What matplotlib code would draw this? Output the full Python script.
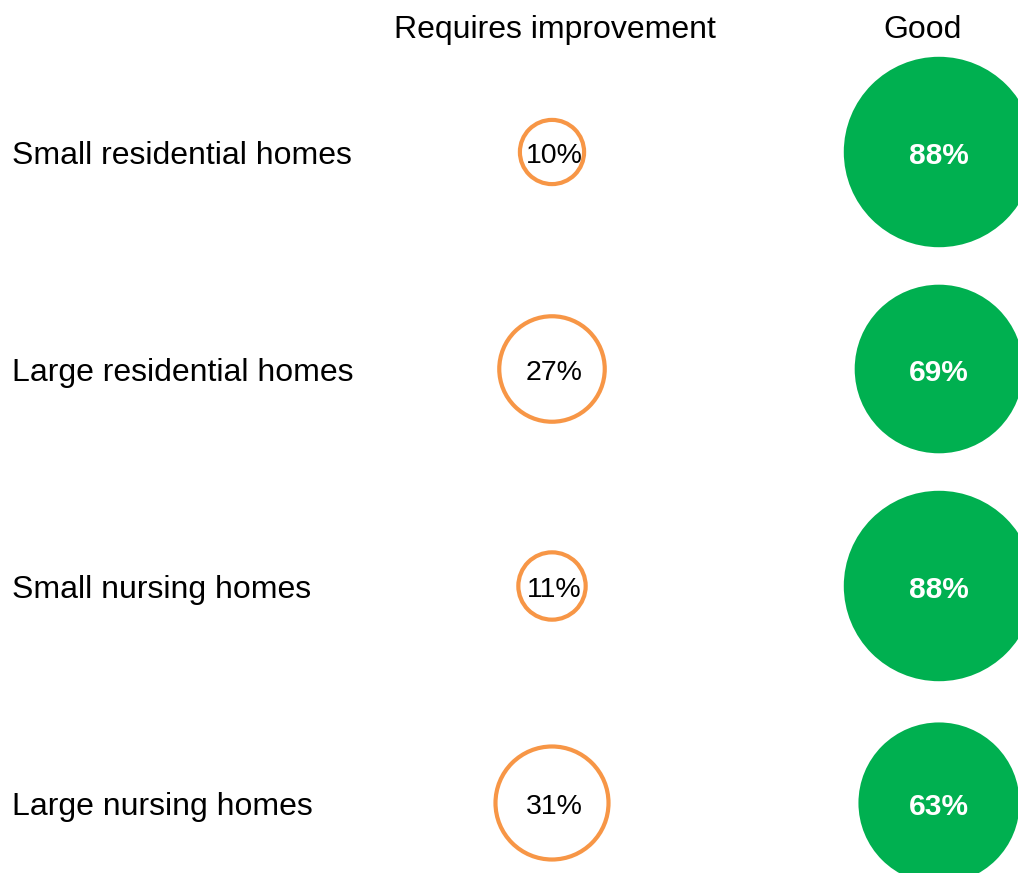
import numpy as np
import matplotlib.pyplot as plt

# Daten
kategorien = ["Small residential homes", "Large residential homes",
              "Small nursing homes", "Large nursing homes"]
verbesserung = [10, 27, 11, 31]   # Requires improvement (%)
gut = [88, 69, 88, 63]            # Good (%)
spalten = ["Requires improvement", "Good"]

orange = "#F79646"
gruen = "#00B050"

fig = plt.figure(figsize=(10.18, 8.73), dpi=100)
ax = fig.add_axes([0, 0, 1, 1])
ax.set_xlim(0, 1018)
ax.set_ylim(873, 0)
ax.set_aspect("equal")
ax.axis("off")

plt.rcParams['font.family'] = ['Liberation Sans', 'DejaVu Sans']

y = 152 + 217 * np.arange(len(kategorien))
x_rot = 552
x_gut = 939

# Durchmesser in Pixel ~ 20.3 * sqrt(Wert), scatter-Größe in pt^2
k = 20.3 * 72 / 100
s_verb = (k * np.sqrt(verbesserung)) ** 2
s_gut = (k * np.sqrt(gut)) ** 2

ax.scatter(np.full(len(y), x_rot), y, s=s_verb, facecolors="white",
           edgecolors=orange, linewidths=3, clip_on=False, zorder=2)
ax.scatter(np.full(len(y), x_gut), y, s=s_gut, color=gruen,
           linewidths=0, clip_on=False, zorder=2)

for yi, name, v, g in zip(y, kategorien, verbesserung, gut):
    ax.text(12, yi + 4, name, ha="left", va="center", fontsize=23)
    ax.text(x_rot + 2, yi + 4, f"{v}%", ha="center", va="center", fontsize=20.5, zorder=3)
    ax.text(x_gut, yi + 4, f"{g}%", ha="center", va="center", fontsize=21.5,
            color="white", fontweight="bold", zorder=3)

ax.text(555, 30, spalten[0], ha="center", va="center", fontsize=23)
ax.text(923, 30, spalten[1], ha="center", va="center", fontsize=23)

plt.savefig("out.png", dpi=100)
